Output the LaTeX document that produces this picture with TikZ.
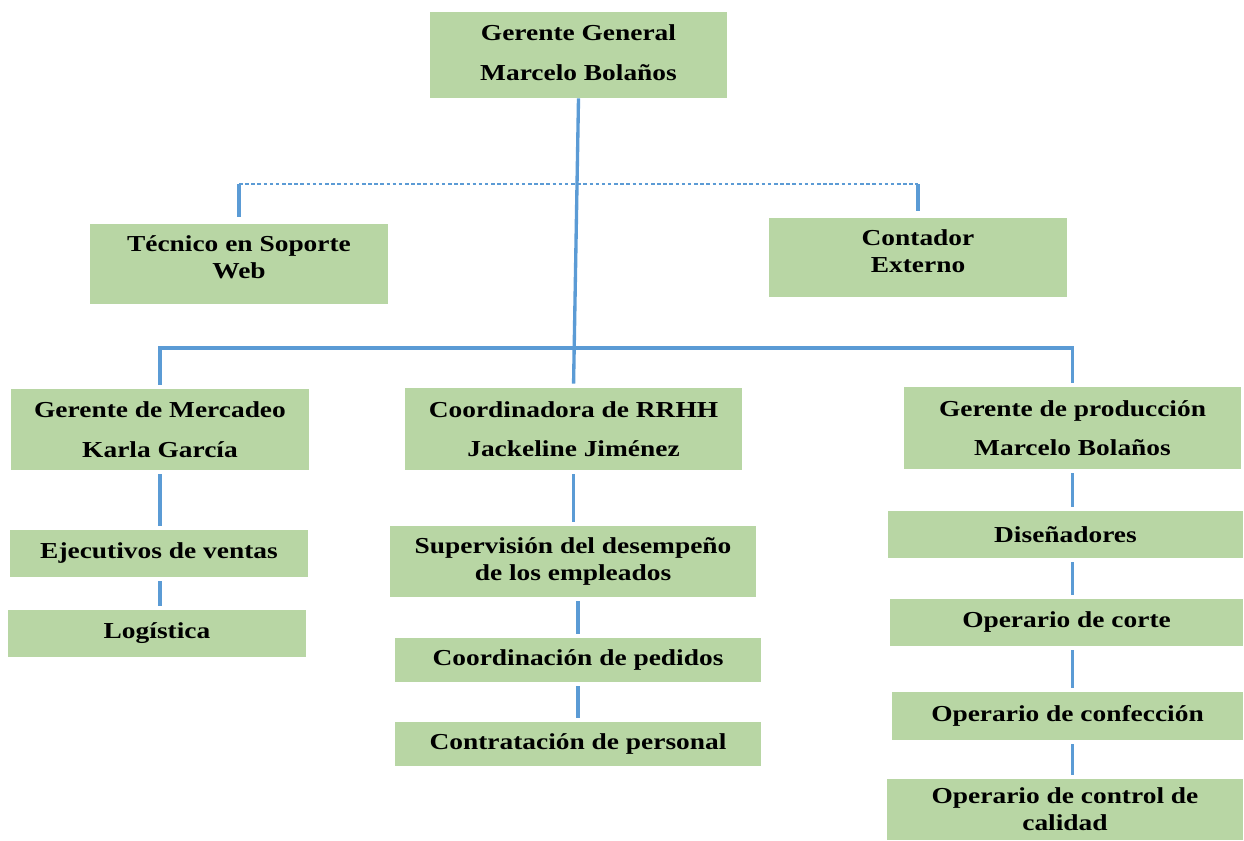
\documentclass[tikz,border=0pt]{standalone}
\usepackage{fontspec}
\setmainfont{Liberation Serif}[FakeStretch=1.2]
\usetikzlibrary{positioning}
\definecolor{cajaverde}{RGB}{184,214,164}
\definecolor{lineaazul}{RGB}{91,155,213}

\begin{document}
\begin{tikzpicture}[x=0.02cm,y=-0.02cm,
    caja/.style args={#1x#2}{fill=cajaverde,minimum width=#1*0.02cm,minimum height=#2*0.02cm,
      inner sep=0pt,align=center,font=\bfseries\fontsize{13}{15.5}\selectfont},
    arriba/.style={text depth=#1},
    linea/.style={lineaazul,line width=1.9pt,shorten <=0.08cm,shorten >=0.08cm},
    punteado/.style={lineaazul,line width=0.6pt,dash pattern=on 2pt off 1.5pt}]
  \useasboundingbox (0,0) rectangle (1244,841);
  % cajas
  \node[caja=297x86,arriba=3pt] (gerente) at (578.5,55) {Gerente General\\[7pt]Marcelo Bolaños};
  \node[caja=298x80,arriba=8pt] (tecnico) at (239,264) {Técnico en Soporte\\Web};
  \node[caja=298x79,arriba=7pt] (contador) at (918,257.5) {Contador\\Externo};
  \node[caja=298x81] (mercadeo) at (160,429.5) {Gerente de Mercadeo\\[7pt]Karla García};
  \node[caja=337x82] (rrhh) at (573.5,429) {Coordinadora de RRHH\\[7pt]Jackeline Jiménez};
  \node[caja=337x82] (produccion) at (1072.5,428) {Gerente de producción\\[7pt]Marcelo Bolaños};
  \node[caja=298x47] (ventas) at (159,553.5) {Ejecutivos de ventas};
  \node[caja=298x47] (logistica) at (157,633.5) {Logística};
  \node[caja=366x71] (supervision) at (573,561.5) {Supervisión del desempeño\\de los empleados};
  \node[caja=366x44] (pedidos) at (578,660) {Coordinación de pedidos};
  \node[caja=366x44] (contratacion) at (578,744) {Contratación de personal};
  \node[caja=355x47] (disenadores) at (1065.5,534.5) {Diseñadores};
  \node[caja=353x47] (corte) at (1066.5,622.5) {Operario de corte};
  \node[caja=351x48] (confeccion) at (1067.5,716) {Operario de confección};
  \node[caja=356x61] (calidad) at (1065,809.5) {Operario de control de\\calidad};
  % lineas
  \coordinate (punteada) at (0,184);
  \coordinate (bus) at (0,348);
  \draw[linea,shorten <=0pt] (gerente.south) -- (rrhh.north);
  \draw[linea] (mercadeo.north) -- (mercadeo.north |- bus) -- (produccion.north |- bus) -- (produccion.north);
  \draw[linea,shorten <=0.14cm,shorten >=0pt] (tecnico.north) -- (tecnico.north |- punteada);
  \draw[linea,shorten <=0.14cm,shorten >=0pt] (contador.north) -- (contador.north |- punteada);
  \draw[punteado] (tecnico.north |- punteada) -- (contador.north |- punteada);
  \draw[linea] (mercadeo.south) -- (mercadeo.south |- ventas.north);
  \draw[linea] (mercadeo.south |- ventas.south) -- (mercadeo.south |- logistica.north);
  \draw[linea] (rrhh.south) -- (rrhh.south |- supervision.north);
  \draw[linea] (pedidos.north |- supervision.south) -- (pedidos.north);
  \draw[linea] (pedidos.south) -- (contratacion.north);
  \draw[linea] (produccion.south) -- (produccion.south |- disenadores.north);
  \draw[linea] (produccion.south |- disenadores.south) -- (produccion.south |- corte.north);
  \draw[linea] (produccion.south |- corte.south) -- (produccion.south |- confeccion.north);
  \draw[linea] (produccion.south |- confeccion.south) -- (produccion.south |- calidad.north);
\end{tikzpicture}
\end{document}
